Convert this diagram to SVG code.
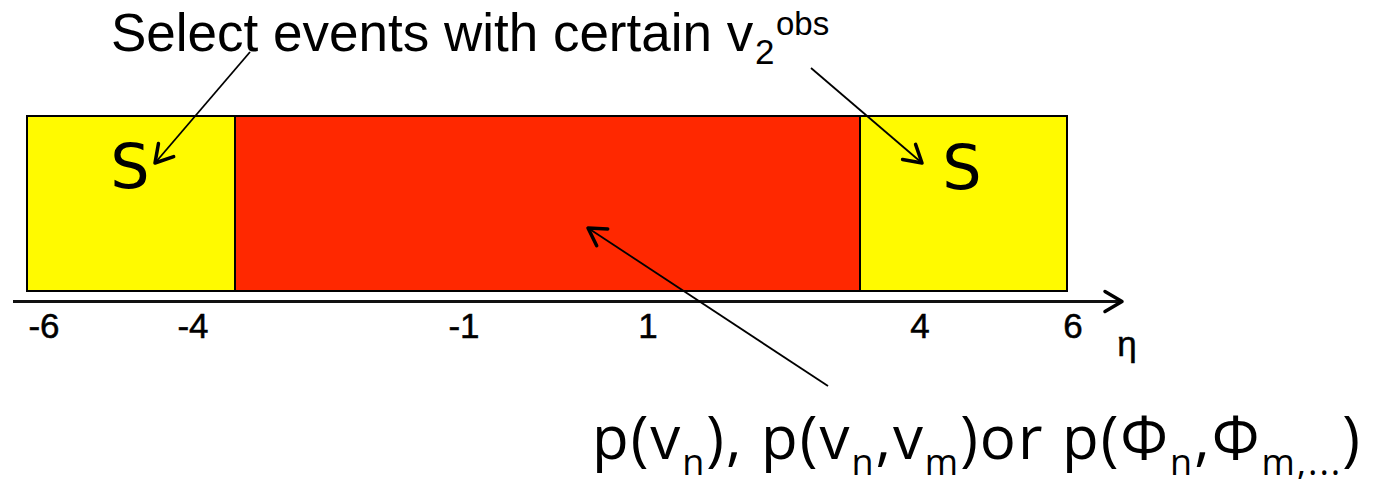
<svg xmlns="http://www.w3.org/2000/svg" width="1373" height="479" viewBox="0 0 1373 479">
<style>
.box{stroke:#000;stroke-width:2}
.yel{fill:#FFFA00}
.red{fill:#FF2800}
.lbl{font-family:"Liberation Sans",Arial,sans-serif;font-size:53px;fill:#000}
.tick{font-family:"Liberation Sans",Arial,sans-serif;font-size:35px;fill:#000;text-anchor:middle;stroke:#000;stroke-width:0.5}
.s{font-family:"DejaVu Sans",Verdana,sans-serif;font-size:62px;fill:#000;text-anchor:middle}
.big{font-family:"Open Sans","DejaVu Sans",sans-serif;font-size:60px;fill:#000}
.sub{font-size:36px}
.conn{stroke:#000;stroke-width:1.8;fill:none}
</style>
<defs>
<marker id="ah" markerUnits="userSpaceOnUse" viewBox="-22 -14 26 28" markerWidth="26" markerHeight="28" refX="0" refY="0" orient="auto">
<path d="M-17,-10 L0,0 L-17,10" fill="none" stroke="#000" stroke-width="3.5" stroke-linecap="round" stroke-linejoin="round"/>
</marker>
</defs>
<g id="region-left">
<rect class="box yel" x="27" y="116" width="208" height="175"/>
<text class="s" x="130" y="188">S</text>
</g>
<g id="region-center">
<rect class="box red" x="235" y="116" width="625" height="175"/>
</g>
<g id="region-right">
<rect class="box yel" x="860" y="116" width="207" height="175"/>
<text class="s" x="962" y="189">S</text>
</g>
<g id="axis">
<line x1="13" y1="301.5" x2="1122" y2="301.5" stroke="#111" stroke-width="3.2" marker-end="url(#ah)"/>
<text class="tick" x="44" y="338">-6</text>
<text class="tick" x="193" y="338">-4</text>
<text class="tick" x="464" y="338">-1</text>
<text class="tick" x="648" y="338">1</text>
<text class="tick" x="920" y="338">4</text>
<text class="tick" x="1073" y="338">6</text>
<text class="tick" x="1127" y="356">η</text>
</g>
<g id="label-select">
<text class="lbl" x="111" y="51">Select events with certain v<tspan x="755" y="64" font-size="35">2</tspan><tspan x="776" y="35" font-size="33">obs</tspan></text>
</g>
<g id="label-p">
<text class="big" x="592" y="459" textLength="768" lengthAdjust="spacing">p(v<tspan class="sub" dy="16">n</tspan><tspan dy="-16">), p(v</tspan><tspan class="sub" dy="16">n</tspan><tspan dy="-16">,v</tspan><tspan class="sub" dy="16">m</tspan><tspan dy="-16">)or p(Φ</tspan><tspan class="sub" dy="16">n</tspan><tspan dy="-16">,Φ</tspan><tspan class="sub" dy="16">m,...</tspan><tspan dy="-16">)</tspan></text>
</g>
<g id="connectors">
<line class="conn" x1="250" y1="52" x2="155" y2="163" marker-end="url(#ah)"/>
<line class="conn" x1="811" y1="68" x2="922" y2="163" marker-end="url(#ah)"/>
<line class="conn" x1="828" y1="386" x2="588" y2="228" marker-end="url(#ah)"/>
</g>
</svg>
